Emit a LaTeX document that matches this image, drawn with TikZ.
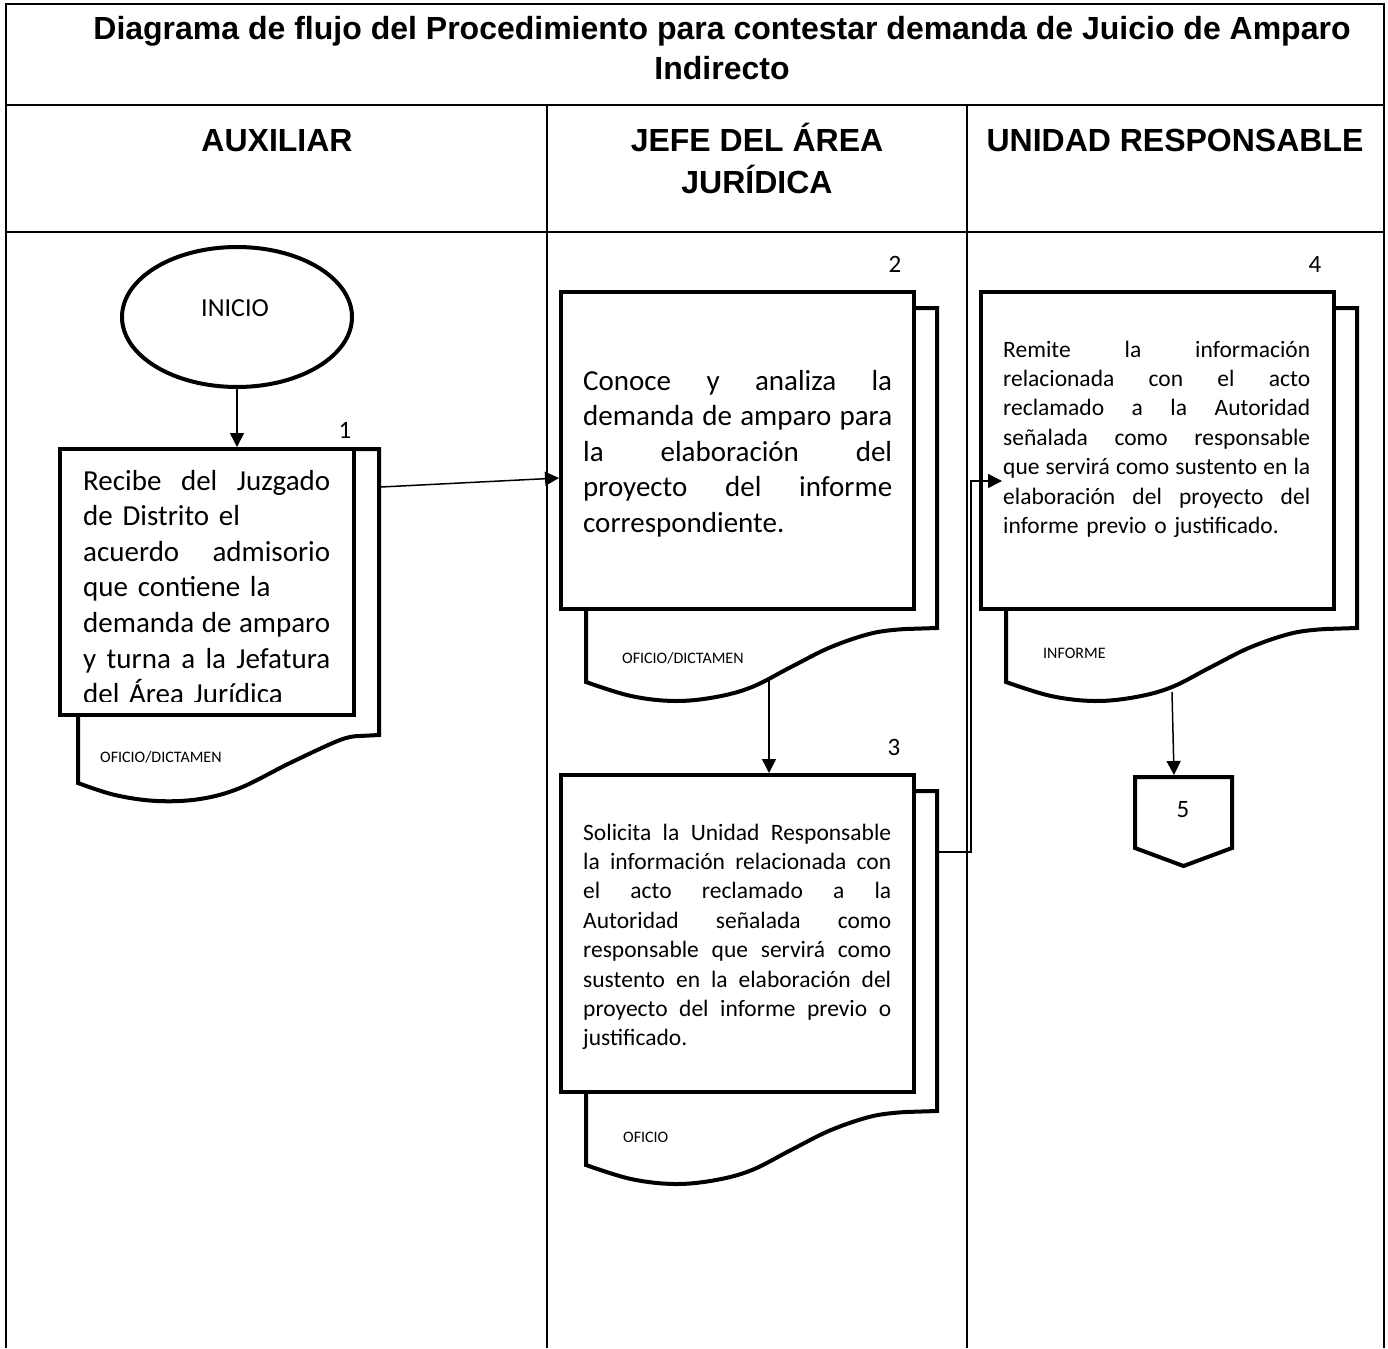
\documentclass[tikz,border=0pt]{standalone}
\usepackage{fontspec}
\setmainfont{Carlito}
\newfontfamily\headfont{Liberation Sans}
\usetikzlibrary{arrows.meta,shapes.geometric,calc}

% one justified line of a text block
\newcommand\jline[1]{\makebox[\linewidth][s]{\spaceskip=0pt\xspaceskip=0pt\relax#1}}

% stacked-document symbol: back sheet with wavy lower edge, front sheet on top
\newcommand\docstack[3]{%
  \begin{scope}[shift={(#2,#3)}]
    \draw[sheet] (353,16) -- (376,16) -- (376,336)
      -- plot[smooth,tension=0.6] coordinates {(345,337) (312,341) (270,355) (230,375)
         (191,395) (155,405) (114,409) (70,404) (25,390)}
      -- (25,317);
    \node[frontsheet, minimum width=353pt, minimum height=317pt] (#1) at (0,0) {};
  \end{scope}}

\begin{document}
\begin{tikzpicture}[x=1pt,y=-1pt,
  grid/.style={line width=2pt},
  sheet/.style={line width=4pt, line join=miter},
  frontsheet/.style={draw, fill=white, line width=4pt, rectangle, inner sep=0pt,
    outer sep=0pt, anchor=north west},
  conn/.style={line width=1.5pt},
  arr/.style={conn, -{Triangle[length=14pt,width=14pt]}},
  headtxt/.style={font=\headfont\bfseries\fontsize{32pt}{40pt}\selectfont, inner sep=0pt, anchor=base},
  bigtxt/.style={font=\fontsize{29pt}{35.6pt}\selectfont, inner sep=0pt, anchor=base west},
  midtxt/.style={font=\fontsize{23.5pt}{29.4pt}\selectfont, inner sep=0pt, anchor=base west},
  doctag/.style={font=\fontsize{16pt}{19pt}\selectfont, inner sep=0pt, anchor=base west},
  stepnum/.style={font=\fontsize{25pt}{30pt}\selectfont, inner sep=0pt, anchor=base}]

\useasboundingbox (0,0) rectangle (1388,1348);

% ---- table frame ----
\draw[grid] (6,1348) -- (6,4) -- (1384,4) -- (1384,1348);
\draw[grid] (6,105) -- (1384,105);
\draw[grid] (6,232) -- (1384,232);
\draw[grid] (547,105) -- (547,1348);
\draw[grid] (967,105) -- (967,1348);

% ---- title and lane headers ----
\node[headtxt] (title1) at (722,39.5) {Diagrama de flujo del Procedimiento para contestar demanda de Juicio de Amparo};
\node[headtxt] (title2) at (722,80) {Indirecto};
\node[headtxt] (lane1) at (277,152) {AUXILIAR};
\node[headtxt] (lane2a) at (757,152) {JEFE DEL ÁREA};
\node[headtxt] (lane2b) at (757,194) {JURÍDICA};
\node[headtxt] (lane3) at (1175,152) {UNIDAD RESPONSABLE};

% ---- start ----
\node[draw, ellipse, line width=4pt, minimum width=230pt, minimum height=140pt,
      inner sep=0pt, outer sep=0pt] (ini) at (237,317) {};
\node[font=\fontsize{26pt}{30pt}\selectfont, inner sep=0pt, anchor=base] (iniT) at (235,316) {INICIO};

% ---- step 1 (own geometry) ----
\begin{scope}[shift={(60,449)}]
  \draw[sheet] (294,0) -- (319,0) -- (319,286)
    -- plot[smooth,tension=0.6] coordinates {(300,287) (280,291) (230,314) (180,339)
       (140,350) (97,352) (55,346) (18,334)}
    -- (18,266);
  \node[frontsheet, minimum width=294pt, minimum height=266pt] (s1) at (0,0) {};
\end{scope}
\begin{scope}
  \clip (62,451) rectangle (352,701);
  \node[bigtxt, text width=247pt] (t1) at (83,490) {%
    \jline{Recibe del Juzgado}\\
    de Distrito el\\
    \jline{acuerdo admisorio}\\
    que contiene la\\
    \jline{demanda de amparo}\\
    \jline{y turna a la Jefatura}\\
    del Área Jurídica};
\end{scope}
\node[doctag] (d1) at (100,762) {OFICIO/DICTAMEN};
\node[stepnum] (n1) at (345,438) {1};

% ---- steps 2, 3, 4 ----
\docstack{s2}{561}{292}
\docstack{s3}{561}{775}
\docstack{s4}{981}{292}

\node[bigtxt, text width=309pt] (t2) at (583,390) {%
  \jline{Conoce y analiza la}\\
  \jline{demanda de amparo para}\\
  \jline{la elaboración del}\\
  \jline{proyecto del informe}\\
  correspondiente.};
\node[doctag] (d2) at (622,663) {OFICIO/DICTAMEN};
\node[stepnum] (n2) at (895,272) {2};

\node[midtxt, text width=308pt] (t3) at (583,840) {%
  \jline{Solicita la Unidad Responsable}\\
  \jline{la información relacionada con}\\
  \jline{el acto reclamado a la}\\
  \jline{Autoridad señalada como}\\
  \jline{responsable que servirá como}\\
  \jline{sustento en la elaboración del}\\
  \jline{proyecto del informe previo o}\\
  justificado.};
\node[doctag] (d3) at (623,1142) {OFICIO};
\node[stepnum] (n3) at (894,755) {3};

\node[midtxt, text width=307pt] (t4) at (1003,357) {%
  \jline{Remite la información}\\
  \jline{relacionada con el acto}\\
  \jline{reclamado a la Autoridad}\\
  \jline{señalada como responsable}\\
  \jline{que servirá como sustento en la}\\
  \jline{elaboración del proyecto del}\\
  informe previo o justificado.};
\node[doctag] (d4) at (1043,658) {INFORME};
\node[stepnum] (n4) at (1315,272) {4};

% ---- off-page connector ----
\node[inner sep=0pt, outer sep=0pt, minimum width=97pt, minimum height=71pt] (p5) at (1183.5,812.5) {};
\draw[sheet] (p5.south west) -- (p5.north west) -- (p5.north east) -- (p5.south east)
  -- ($(p5.south)+(0,18)$) -- cycle;
\node[stepnum] (n5) at (1183,817) {5};

% ---- connector end points on the sheets ----
\coordinate (s1out) at (381,487);
\coordinate (s2in) at (559,478);
\coordinate (s2wave) at (769,679);
\coordinate (s3out) at (939,852);
\coordinate (s4in) at (1002,481);
\coordinate (s4wave) at (1172,692);
\coordinate (p5in) at (1174,775);

% ---- flow ----
\draw[arr, shorten >=2pt] (ini.south) -- (ini.south |- s1.north);
\draw[arr] (s1out) -- (s2in);
\draw[arr, shorten >=2pt] (s2wave) -- (s2wave |- s3.north);
\draw[arr] (s3out) -- ++(32,0) |- (s4in);
\draw[arr] (s4wave) -- (p5in);

\end{tikzpicture}
\end{document}
